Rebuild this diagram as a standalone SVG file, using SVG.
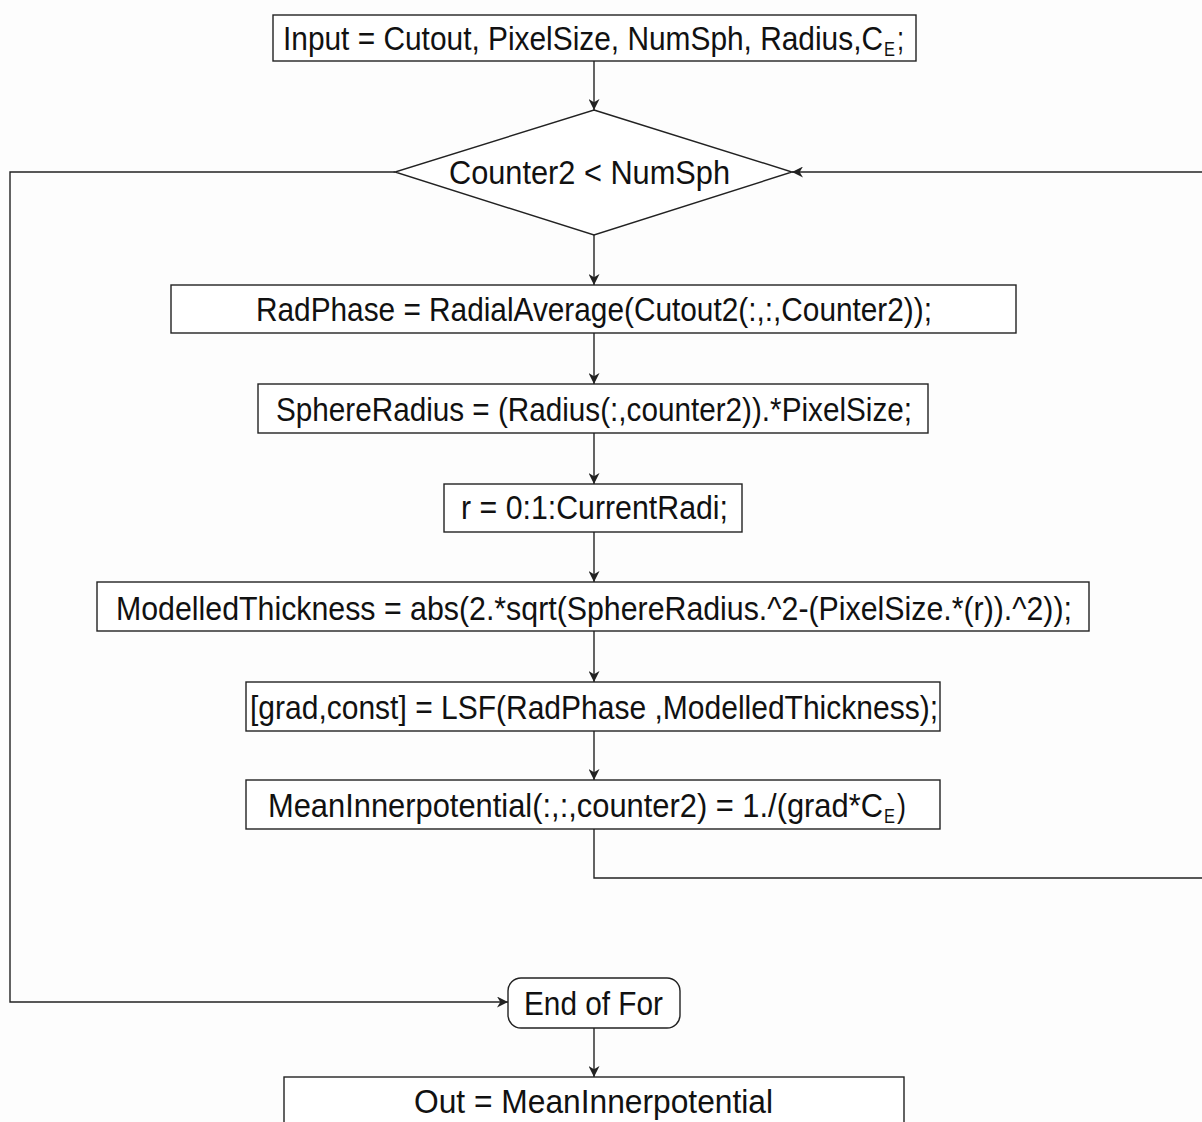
<svg xmlns="http://www.w3.org/2000/svg" width="1202" height="1122" viewBox="0 0 1202 1122">
  <style>
    .box { fill: #ffffff; stroke: #222222; stroke-width: 1.4; }
    .lbl { font-family: "Liberation Sans", Arial, sans-serif; font-size: 33px; fill: #111111; text-anchor: start; }
    .sub { font-family: "Liberation Sans", Arial, sans-serif; font-size: 21px; fill: #111111; text-anchor: start; }
    .wire { fill: none; stroke: #222222; stroke-width: 1.4; }
  </style>
  <defs>
    <marker id="arrow" viewBox="0 0 10 10" refX="10" refY="5" markerWidth="11" markerHeight="11" markerUnits="userSpaceOnUse" orient="auto">
      <path d="M0,0 L10,5 L0,10 L3,5 Z" fill="#222222"/>
    </marker>
  </defs>
  <rect width="1202" height="1122" fill="#fdfdfd"/>

  <!-- connectors -->
  <g id="connectors">
    <path class="wire" d="M594,61 V110" marker-end="url(#arrow)"/>
    <path class="wire" d="M594,235 V285" marker-end="url(#arrow)"/>
    <path class="wire" d="M594,333 V384" marker-end="url(#arrow)"/>
    <path class="wire" d="M594,433 V484" marker-end="url(#arrow)"/>
    <path class="wire" d="M594,532 V582" marker-end="url(#arrow)"/>
    <path class="wire" d="M594,631 V682" marker-end="url(#arrow)"/>
    <path class="wire" d="M594,731 V780" marker-end="url(#arrow)"/>
    <!-- loop back to the condition -->
    <path class="wire" d="M594,829 V878 H1202"/>
    <path class="wire" d="M1202,172 H792" marker-end="url(#arrow)"/>
    <!-- exit of the loop -->
    <path class="wire" d="M395,172 H10 V1002 H508" marker-end="url(#arrow)"/>
    <path class="wire" d="M594,1028 V1077" marker-end="url(#arrow)"/>
  </g>

  <g id="input">
    <rect class="box" x="273" y="15" width="643" height="46"/>
    <text class="lbl" x="283" y="50" textLength="600" lengthAdjust="spacingAndGlyphs">Input = Cutout, PixelSize, NumSph, Radius,C</text>
    <text class="sub" x="884" y="56" textLength="11" lengthAdjust="spacingAndGlyphs">E</text>
    <text class="lbl" x="897" y="50" textLength="7" lengthAdjust="spacingAndGlyphs">;</text>
  </g>

  <g id="condition">
    <polygon class="box" points="594,110 792,172 594,235 395,172"/>
    <text class="lbl" x="449" y="184" textLength="281" lengthAdjust="spacingAndGlyphs">Counter2 &lt; NumSph</text>
  </g>

  <g id="radphase">
    <rect class="box" x="171" y="285" width="845" height="48"/>
    <text class="lbl" x="256" y="321" textLength="676" lengthAdjust="spacingAndGlyphs">RadPhase = RadialAverage(Cutout2(:,:,Counter2));</text>
  </g>

  <g id="sphereradius">
    <rect class="box" x="258" y="384" width="670" height="49"/>
    <text class="lbl" x="276" y="421" textLength="636" lengthAdjust="spacingAndGlyphs">SphereRadius = (Radius(:,counter2)).*PixelSize;</text>
  </g>

  <g id="range">
    <rect class="box" x="444" y="484" width="298" height="48"/>
    <text class="lbl" x="461" y="519" textLength="267" lengthAdjust="spacingAndGlyphs">r = 0:1:CurrentRadi;</text>
  </g>

  <g id="thickness">
    <rect class="box" x="97" y="582" width="992" height="49"/>
    <text class="lbl" x="116" y="620" textLength="956" lengthAdjust="spacingAndGlyphs">ModelledThickness = abs(2.*sqrt(SphereRadius.^2-(PixelSize.*(r)).^2));</text>
  </g>

  <g id="fit">
    <rect class="box" x="246" y="682" width="694" height="49"/>
    <text class="lbl" x="250" y="719" textLength="688" lengthAdjust="spacingAndGlyphs">[grad,const] = LSF(RadPhase ,ModelledThickness);</text>
  </g>

  <g id="meaninner">
    <rect class="box" x="246" y="780" width="694" height="49"/>
    <text class="lbl" x="268" y="817" textLength="615" lengthAdjust="spacingAndGlyphs">MeanInnerpotential(:,:,counter2) = 1./(grad*C</text>
    <text class="sub" x="884" y="823" textLength="11" lengthAdjust="spacingAndGlyphs">E</text>
    <text class="lbl" x="897" y="817" textLength="9" lengthAdjust="spacingAndGlyphs">)</text>
  </g>

  <g id="endfor">
    <rect class="box" x="508" y="978" width="172" height="50" rx="13" ry="13"/>
    <text class="lbl" x="524" y="1015" textLength="139" lengthAdjust="spacingAndGlyphs">End of For</text>
  </g>

  <g id="output">
    <rect class="box" x="284" y="1077" width="620" height="60"/>
    <text class="lbl" x="414" y="1113" textLength="359" lengthAdjust="spacingAndGlyphs">Out = MeanInnerpotential</text>
  </g>
</svg>
